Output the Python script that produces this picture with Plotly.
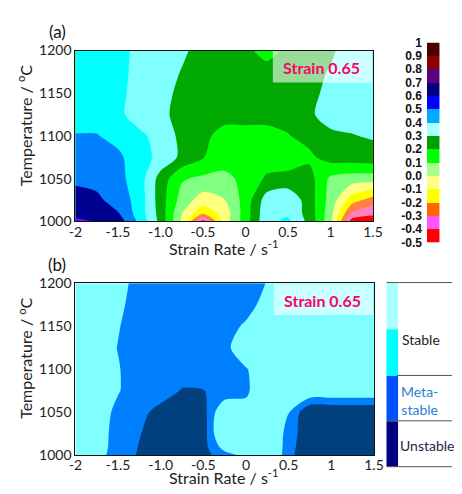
import plotly.graph_objects as go

# ---------------- data ----------------
strain_rate = [-2, -1.75, -1.5, -1.25, -1.0, -0.75, -0.5, -0.25, 0, 0.25, 0.5, 0.75, 1.0, 1.25, 1.5]
temperature = [1000, 1010, 1025, 1050, 1075, 1100, 1125, 1150, 1175, 1200]

# (a) instability parameter map, rows follow `temperature`, columns follow `strain_rate`
map_a_1000 = [0.72, 0.698, 0.66, 0.48, 0.27, -0.02, -0.45, -0.05, 0.15, 0.38, 0.42, 0.27, 0.03, -0.45, -0.47]
map_a_1010 = [0.67, 0.65, 0.605, 0.455, 0.26, 0.005, -0.17, -0.06, 0.15, 0.37, 0.38, 0.26, 0.04, -0.31, -0.37]
map_a_1025 = [0.64, 0.62, 0.56, 0.46, 0.25, 0.06, -0.05, -0.005, 0.14, 0.35, 0.38, 0.25, 0.06, -0.15, -0.25]
map_a_1050 = [0.58, 0.57, 0.53, 0.45, 0.26, 0.11, 0.08, 0.07, 0.13, 0.215, 0.23, 0.24, 0.08, 0.05, 0.05]
map_a_1075 = [0.55, 0.55, 0.52, 0.445, 0.37, 0.28, 0.205, 0.15, 0.16, 0.15, 0.15, 0.18, 0.24, 0.25, 0.26]
map_a_1100 = [0.505, 0.505, 0.47, 0.43, 0.35, 0.28, 0.22, 0.17, 0.17, 0.18, 0.195, 0.23, 0.28, 0.295, 0.31]
map_a_1125 = [0.46, 0.46, 0.43, 0.34, 0.33, 0.26, 0.24, 0.23, 0.23, 0.22, 0.23, 0.285, 0.34, 0.34, 0.34]
map_a_1150 = [0.46, 0.46, 0.43, 0.357, 0.35, 0.265, 0.25, 0.24, 0.25, 0.25, 0.25, 0.27, 0.33, 0.35, 0.36]
map_a_1175 = [0.45, 0.45, 0.44, 0.36, 0.35, 0.295, 0.26, 0.25, 0.25, 0.25, 0.25, 0.26, 0.31, 0.36, 0.37]
map_a_1200 = [0.45, 0.45, 0.45, 0.36, 0.35, 0.32, 0.26, 0.25, 0.23, 0.15, 0.23, 0.26, 0.28, 0.36, 0.37]

# (b) stability index (<0.5 stable, 0.5-1.5 meta-stable, >1.5 unstable)
map_b_1000 = [0.1, 0.1, 0.99, 1.6, 2.0, 2.0, 1.9, 0.9, 0.2, -1.0, 1.2, 2.3, 2.5, 2.5, 2.5]
map_b_1010 = [0.1, 0.1, 0.85, 1.55, 2.0, 2.0, 1.9, 0.0, 0.0, -1.0, 1.1, 2.3, 2.5, 2.5, 2.5]
map_b_1025 = [0.1, 0.1, 0.81, 1.45, 2.0, 2.0, 2.0, -1.0, 0.0, -1.0, 1.0, 2.2, 2.5, 2.5, 2.5]
map_b_1050 = [0.1, 0.1, 0.69, 1.2, 1.85, 2.0, 1.9, -0.6, 0.3, -0.5, 0.45, 2.5, 2.5, 2.5, 2.5]
map_b_1075 = [0.1, 0.1, 0.45, 0.9, 1.0, 1.57, 1.52, 1.3, 0.6, 0.0, 0.0, -0.5, -0.5, -0.5, -0.5]
map_b_1100 = [0.1, 0.1, 0.45, 0.9, 1.0, 1.0, 1.0, 1.0, 0.55, 0.0, 0.0, 0.0, 0.0, 0.0, 0.0]
map_b_1125 = [0.1, 0.1, 0.525, 0.9, 1.0, 1.0, 1.0, 0.7, 0.0, 0.0, 0.0, 0.0, 0.0, 0.0, 0.0]
map_b_1150 = [0.1, 0.1, 0.45, 0.9, 1.0, 1.0, 1.0, 1.0, 0.31, 0.0, 0.0, 0.0, 0.0, 0.0, 0.0]
map_b_1175 = [0.1, 0.1, 0.3, 0.9, 1.0, 1.0, 1.0, 1.0, 1.0, 0.0, 0.0, 0.0, 0.0, 0.0, 0.0]
map_b_1200 = [0.1, 0.1, 0.1, 0.9, 1.0, 1.0, 1.0, 1.0, 1.0, 0.45, 0.1, 0.0, 0.0, 0.0, 0.0]

x_tickvals = [-2, -1.5, -1.0, -0.5, 0, 0.5, 1, 1.5]
x_ticktext = ["-2", "-1.5", "-1.0", "-0.5", "0", "0.5", "1", "1.5"]
y_tickvals = [1000, 1050, 1100, 1150, 1200]

# colour bar of (a)
cb_levels = [-0.5, -0.4, -0.3, -0.2, -0.1, 0.0, 0.1, 0.2, 0.3, 0.4, 0.5, 0.6, 0.7, 0.8, 0.9, 1.0]
cb_labels = ["-0.5", "-0.4", "-0.3", "-0.2", "-0.1", "0.0", "0.1", "0.2", "0.3", "0.4",
             "0.5", "0.6", "0.7", "0.8", "0.9", "1"]
cb_colors = ["#ff0000", "#ff55ff", "#ff6600", "#ffff00", "#ffff88", "#aaff88", "#00ff00", "#00a000",
             "#aaffff", "#00aaff", "#0000ff", "#000080", "#5c0080", "#8b0000", "#4d0000"]

# legend of (b)
legend_labels = ["Stable", "Meta-<br>stable", "Unstable"]

# ---------------- styling ----------------
W, H = 462, 494
def px(x): return x / W
def py(y): return 1 - y / H

band_colors_a = ["#ff0000",  # below -0.5
                 "#ff0000", "#ff80c0", "#ff8040", "#ffff00", "#ffff80", "#80ff80", "#00ff00",
                 "#00a800", "#80ffff", "#00ffff", "#0080ff", "#000090", "#8000ff", "#8b0000", "#4d0000"]
cs_a = [[k / 16, c] for k, c in enumerate(band_colors_a)] + [[1.0, band_colors_a[-1]]]
cs_b = [[0.0, "#80ffff"], [0.5, "#0080ff"], [1.0, "#00407f"]]

z_a = [map_a_1000, map_a_1010, map_a_1025, map_a_1050, map_a_1075,
       map_a_1100, map_a_1125, map_a_1150, map_a_1175, map_a_1200]
z_b = [map_b_1000, map_b_1010, map_b_1025, map_b_1050, map_b_1075,
       map_b_1100, map_b_1125, map_b_1150, map_b_1175, map_b_1200]

fig = go.Figure()
fig.add_trace(go.Contour(
    x=strain_rate, y=temperature, z=z_a, colorscale=cs_a, showscale=False,
    contours=dict(start=-0.5, end=1.0, size=0.1, coloring="fill", showlines=False),
    line=dict(width=0, smoothing=0.8), hoverinfo="skip", xaxis="x", yaxis="y"))
fig.add_trace(go.Contour(
    x=strain_rate, y=temperature, z=z_b, colorscale=cs_b, showscale=False,
    contours=dict(start=0.5, end=1.5, size=1.0, coloring="fill", showlines=False),
    line=dict(width=0, smoothing=0.8), hoverinfo="skip", xaxis="x2", yaxis="y2"))

# discrete colour bar as a heatmap on its own axis
cb_mid = [round((cb_levels[i] + cb_levels[i + 1]) / 2, 3) for i in range(len(cb_levels) - 1)]
n = len(cb_colors)
cs_bar = []
for k, c in enumerate(cb_colors):
    cs_bar += [[k / n, c], [(k + 1) / n, c]]
fig.add_trace(go.Heatmap(
    x=[0], y=cb_mid, z=[[v] for v in cb_mid], colorscale=cs_bar, zmin=-0.5, zmax=1.0,
    showscale=False, hoverinfo="skip", xaxis="x3", yaxis="y3"))

tickfont = dict(family="Lato", size=14, color="#222")
axis_common = dict(showgrid=False, zeroline=False, showline=True, mirror=True,
                   linecolor="#111", linewidth=1, ticks="", tickfont=tickfont)

fig.update_layout(
    width=W, height=H, margin=dict(l=0, r=0, t=0, b=0),
    paper_bgcolor="white", plot_bgcolor="white", showlegend=False,
    xaxis=dict(domain=[px(71), px(380)], range=[-2, 1.5], anchor="y", ticklabelstandoff=-2,
               tickvals=x_tickvals, ticktext=x_ticktext, **axis_common),
    yaxis=dict(domain=[py(220), py(43)], range=[1000, 1200], anchor="x",
               tickvals=y_tickvals, **axis_common),
    xaxis2=dict(domain=[px(71), px(381)], range=[-2, 1.5], anchor="y2", ticklabelstandoff=-3,
                tickvals=x_tickvals, ticktext=x_ticktext, **axis_common),
    yaxis2=dict(domain=[py(462), py(284)], range=[1000, 1200], anchor="x2",
                tickvals=y_tickvals, **axis_common),
    xaxis3=dict(domain=[px(436), px(449)], range=[-0.5, 0.5], anchor="y3", visible=False),
    yaxis3=dict(domain=[py(241.7), py(34.7)], range=[-0.5, 1.0], anchor="x3", side="left",
                tickvals=cb_levels, ticktext=cb_labels, showgrid=False, zeroline=False,
                showline=False, ticks="", ticklabelstandoff=4,
                tickfont=dict(family="Liberation Sans", size=12, color="#111", weight="bold")),
)

annotations = []
shapes = []

def note(text, x, y, size, color, family="Lato", angle=0):
    annotations.append(dict(text=text, x=px(x), y=py(y), xref="paper", yref="paper",
                            xanchor="center", yanchor="middle", showarrow=False,
                            textangle=angle, font=dict(family=family, size=size, color=color)))

# panel labels
note("(a)", 52, 23, 17, "#111")
note("(b)", 52, 265, 17, "#111")
# axis titles
for yc in [121, 362]:
    note("Temperature / <sup>o</sup>C", 19, yc, 16, "#222", angle=-90)
note("Strain Rate / s<sup>-1</sup>", 225, 247, 16, "#222")
note("Strain Rate / s<sup>-1</sup>", 225, 484, 16, "#222")

# "Strain 0.65" boxes
for (x0, x1, y0, y1) in [(276, 379, 43.5, 76), (277, 380, 285, 317)]:
    shapes.append(dict(type="rect", xref="paper", yref="paper", x0=px(x0), x1=px(x1),
                       y0=py(y1), y1=py(y0), fillcolor="rgba(255,255,255,0.6)", line=dict(width=0)))
    note("<b>Strain 0.65</b>", (x0 + x1) / 2 - 1, (y0 + y1) / 2 + 1, 16, "#ff0066")

# legend of (b)
leg_blocks = [(283.3, 331.7, "#aaffff"), (331.7, 380, "#00ffff"), (380, 427, "#0050ff"), (427, 474, "#000080")]
for (y0, y1, c) in leg_blocks:
    shapes.append(dict(type="rect", xref="paper", yref="paper", x0=px(394), x1=px(406),
                       y0=py(y1), y1=py(y0), fillcolor=c, line=dict(width=0)))
for (yl, xs) in [(283.3, 394), (379.5, 405), (426.5, 395), (474, 395)]:
    shapes.append(dict(type="line", xref="paper", yref="paper", x0=px(xs), x1=px(462),
                       y0=py(yl), y1=py(yl), line=dict(color="#555", width=1)))
leg_pos = [(430, 342.7, "#222"), (428, 405, "#2a7fd6"), (436.5, 451.7, "#1c2a48")]
for lab, (xc, yc, col) in zip(legend_labels, leg_pos):
    note(lab, xc, yc, 14, col)

fig.update_layout(annotations=annotations, shapes=shapes)
fig.write_html("out.html")
